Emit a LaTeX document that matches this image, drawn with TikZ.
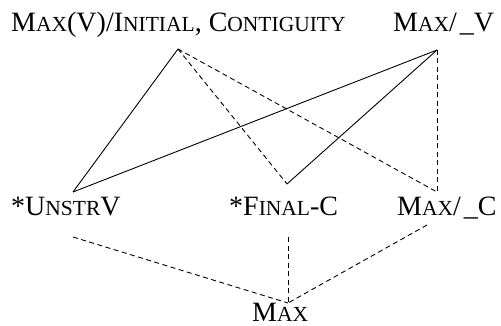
\documentclass[tikz,border=0pt]{standalone}
\usepackage{fontspec}
\setmainfont{Liberation Serif}
\newcommand\bigf{\fontsize{28}{32}\selectfont}
\newcommand\smc[1]{{\fontsize{21.5}{24}\selectfont #1}}
\begin{document}
\begin{tikzpicture}[x=1pt,y=-1pt,
  lbl/.style={inner sep=0pt,anchor=base west,font=\bigf},
  solidln/.style={line width=0.9pt},
  dashln/.style={line width=0.9pt,dash pattern=on 5pt off 3.5pt}]
\useasboundingbox (0,0) rectangle (501,326);
% labels
\node[lbl] (tl) at (11,32) {M\smc{AX}(V)/I\smc{NITIAL}, C\smc{ONTIGUITY}};
\node[lbl] (tr) at (393,32) {M\smc{AX}/\kern3pt\_V};
\node[lbl] (un) at (11,215) {*U\smc{NSTR}V};
\node[lbl] (fc) at (229,215) {*F\smc{INAL}-C};
\node[lbl] (mc) at (397,215) {M\smc{AX}/\kern3pt\_C};
\node[lbl] (mx) at (252,321) {M\smc{AX}};
% attachment points
\coordinate (tlb) at (178,49);
\coordinate (trb) at (437,50);
\coordinate (unt) at (73,192);
\coordinate (fct) at (287,184);
\coordinate (mct) at (437,192);
\coordinate (unb) at (73,237);
\coordinate (fcb) at (288,237);
\coordinate (mcb) at (427,225);
\coordinate (mxt) at (288,303);
% upper connectors
\draw[solidln] (tlb) -- (unt);
\draw[solidln] (trb) -- (unt);
\draw[solidln] (trb) -- (fct);
\draw[dashln] (tlb) -- (fct);
\draw[dashln] (tlb) -- (mct);
\draw[dashln] (trb) -- (mct);
% lower connectors
\draw[dashln] (unb) -- (mxt);
\draw[dashln] (fcb) -- (mxt);
\draw[dashln] (mcb) -- (mxt);
\end{tikzpicture}
\end{document}
